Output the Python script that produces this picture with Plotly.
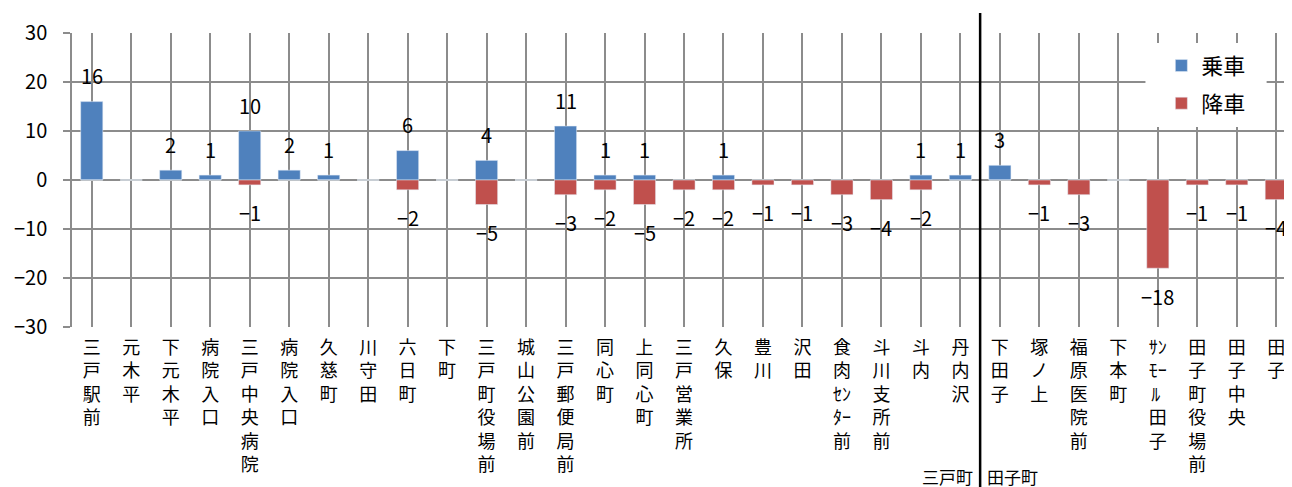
import plotly.graph_objects as go

# stops (bus line from 三戸 to 田子)
stops = ["三戸駅前", "元木平", "下元木平", "病院入口", "三戸中央病院", "病院入口", "久慈町",
         "川守田", "六日町", "下町", "三戸町役場前", "城山公園前", "三戸郵便局前", "同心町",
         "上同心町", "三戸営業所", "久保", "豊川", "沢田", "食肉ｾﾝﾀｰ前", "斗川支所前", "斗内",
         "丹内沢", "下田子", "塚ノ上", "福原医院前", "下本町", "ｻﾝﾓｰﾙ 田子", "田子町役場前",
         "田子中央", "田子"]
boarding = [16, 0, 2, 1, 10, 2, 1, 0, 6, 0, 4, 0, 11, 1, 1, 0, 1, 0, 0, 0, 0, 1, 1,
            3, 0, 0, 0, 0, 0, 0, 0]
alighting = [0, 0, 0, 0, -1, 0, 0, 0, -2, 0, -5, 0, -3, -2, -5, -2, -2, -1, -1, -3, -4, -2, 0,
             0, -1, -3, 0, -18, -1, -1, -4]
town_split = 23  # first stop in 田子町

FONT = "Noto Sans CJK JP"
xs = list(range(len(stops)))


def vertical(name):
    # one full-width char per line, half-width kana two per line
    lines, buf = [], ""
    for ch in name:
        if "\uff61" <= ch <= "\uff9f" or ch == " ":
            buf += ch
            if len(buf) == 2:
                lines.append(buf)
                buf = ""
        else:
            if buf:
                lines.append(buf)
                buf = ""
            lines.append(ch)
    if buf:
        lines.append(buf)
    return "<br>".join(lines)


ticktext = [vertical(s) for s in stops]

fig = go.Figure()
fig.add_trace(go.Bar(x=xs, y=boarding, name="乗車", marker_color="#4F81BD", width=0.56,
                     legendgroup="a"))
fig.add_trace(go.Bar(x=xs, y=alighting, name="降車", marker_color="#C0504D", width=0.56,
                     legendgroup="b"))

# value labels
for i in xs:
    if boarding[i] != 0:
        fig.add_annotation(x=i, y=boarding[i], text=str(boarding[i]), showarrow=False,
                           yshift=26, font=dict(size=20, color="black", family=FONT))
    if alighting[i] != 0:
        fig.add_annotation(x=i, y=alighting[i], text="\u2212" + str(-alighting[i]), showarrow=False,
                           yshift=-28, font=dict(size=20, color="black", family=FONT))

# white box behind the legend
fig.add_shape(type="rect", xref="paper", yref="paper", x0=0.877, x1=0.976, y0=0.68, y1=0.966,
              fillcolor="white", line_width=0, layer="above")

# divider between the two towns
fig.add_shape(type="line", x0=town_split - 0.5, x1=town_split - 0.5, xref="x",
              y0=-0.7, y1=1.068, yref="paper", line=dict(color="black", width=2.5))
fig.add_annotation(x=town_split - 0.5, y=-0.51, xref="x", yref="paper", text="三戸町",
                   showarrow=False, xanchor="right", yanchor="middle", xshift=-5,
                   font=dict(size=17, color="black", family=FONT))
fig.add_annotation(x=town_split - 0.5, y=-0.51, xref="x", yref="paper", text="田子町",
                   showarrow=False, xanchor="left", yanchor="middle", xshift=5,
                   font=dict(size=17, color="black", family=FONT))

fig.update_layout(
    width=1292, height=487,
    margin=dict(l=64, r=4, t=25, b=168),
    barmode="overlay",
    plot_bgcolor="white", paper_bgcolor="white",
    font=dict(family=FONT, color="black"),
    showlegend=True,
    legend=dict(x=0.89, y=0.96, xanchor="left", yanchor="top", bgcolor="rgba(0,0,0,0)",
                font=dict(size=22, family=FONT), itemwidth=30, tracegroupgap=6),
    xaxis=dict(tickmode="array", tickvals=xs, ticktext=ticktext, tickangle=0,
               range=[-0.5, len(stops) - 0.5], tickson="boundaries", automargin=False,
               showgrid=True, gridcolor="#8C8C8C", gridwidth=1.5, ticklabelstandoff=8,
               ticks="", showline=False, tickfont=dict(size=18, family=FONT, color="black")),
    yaxis=dict(range=[-30, 30], dtick=10, showgrid=True, gridcolor="#8C8C8C", gridwidth=1.5,
               zeroline=True, zerolinecolor="#8C8C8C", zerolinewidth=1.5, automargin=False,
               ticks="outside", ticklen=7, tickcolor="#8C8C8C", tickwidth=1.5,
               ticklabelstandoff=12,
               showline=True, linecolor="#8C8C8C", linewidth=1.5,
               tickfont=dict(size=20, family=FONT, color="black")),
)

fig.write_html("out.html")
